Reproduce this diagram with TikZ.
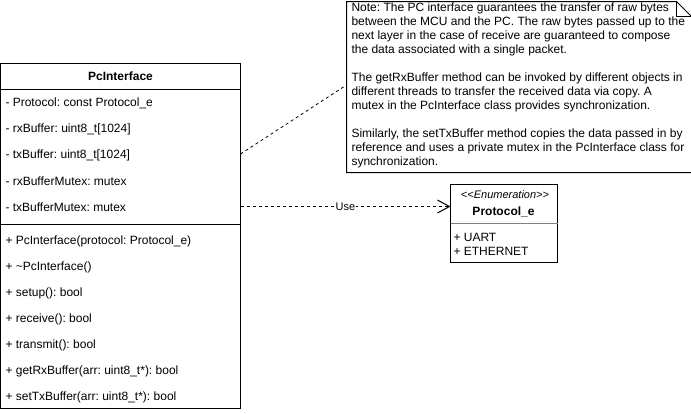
\documentclass[tikz,border=0pt]{standalone}
\usepackage{fontspec}
\setmainfont{Liberation Sans}
\usetikzlibrary{arrows.meta}
\frenchspacing
\begin{document}
\begin{tikzpicture}[x=1bp,y=-1bp,line width=1bp,
  font=\fontsize{12bp}{14bp}\selectfont,
  box/.style={draw,rectangle,anchor=north west,inner sep=0,outer sep=0},
  member/.style={anchor=west,inner sep=0},
  dsh/.style={dash pattern=on 3bp off 3bp}]
\useasboundingbox (0,0) rectangle (691,413);
% PcInterface class
\node[box,minimum width=240bp,minimum height=345bp] (pc) at (0.5,63.5) {};
\node[font=\fontsize{12bp}{14bp}\selectfont\bfseries] (pcname) at (120.5,76.5) {PcInterface};
\draw (0.5,89.5) -- (240.5,89.5);
\draw (0.5,224.5) -- (240.5,224.5);
\node[member] (a1) at (5,103) {- Protocol: const Protocol\_e};
\node[member] (a2) at (5,129) {- rxBuffer: uint8\_t[1024]};
\node[member] (a3) at (5,155) {- txBuffer: uint8\_t[1024]};
\node[member] (a4) at (5,181) {- rxBufferMutex: mutex};
\node[member] (a5) at (5,207) {- txBufferMutex: mutex};
\node[member] (m1) at (5,241) {+ PcInterface(protocol: Protocol\_e)};
\node[member] (m2) at (5,267) {+ \textasciitilde PcInterface()};
\node[member] (m3) at (5,293) {+ setup(): bool};
\node[member] (m4) at (5,319) {+ receive(): bool};
\node[member] (m5) at (5,345) {+ transmit(): bool};
\node[member] (m6) at (5,371) {+ getRxBuffer(arr: uint8\_t*): bool};
\node[member] (m7) at (5,397) {+ setTxBuffer(arr: uint8\_t*): bool};
% Protocol_e enumeration
\node[box,minimum width=107bp,minimum height=78bp] (enum) at (450.5,184.5) {};
\node[font=\fontsize{11bp}{13bp}\selectfont\itshape] (stereo) at (505,194.5) {{<}{<}Enumeration{>}{>}};
\node[font=\fontsize{12bp}{14bp}\selectfont\bfseries] (enumname) at (503.5,211.5) {Protocol\_e};
\draw[gray] (450.5,223.5) -- (557.5,223.5);
\node[member] (e1) at (453,237) {+ UART};
\node[member] (e2) at (453,251) {+ ETHERNET};
% Note
\node[rectangle,inner sep=0,anchor=north west,minimum width=344bp,minimum height=170bp] (note) at (346.5,1.5) {};
\draw (note.north west) -- ([xshift=-15bp]note.north east) -- ([yshift=-15bp]note.north east) -- (note.south east) -- (note.south west) -- cycle;
\draw ([xshift=-15bp]note.north east) -- ([xshift=-15bp,yshift=-15bp]note.north east) -- ([yshift=-15bp]note.north east);
\node[anchor=north west,inner sep=0,align=left] (notetext) at (351,2) {%
Note: The PC interface guarantees the transfer of raw bytes\\
between the MCU and the PC. The raw bytes passed up to the\\
next layer in the case of receive are guaranteed to compose\\
the data associated with a single packet.\\[14bp]
The getRxBuffer method can be invoked by different objects in\\
different threads to transfer the received data via copy. A\\
mutex in the PcInterface class provides synchronization.\\[14bp]
Similarly, the setTxBuffer method copies the data passed in by\\
reference and uses a private mutex in the PcInterface class for\\
synchronization.};
% connectors
\coordinate (pcnote) at (240.5,154);
\coordinate (notepc) at (346.5,85);
\draw[dsh,line width=0.8bp] (pcnote) -- (notepc);
\coordinate (pcuse) at (240.5,206.5);
\coordinate (enumuse) at (450.5,206.5);
\draw[dsh,-{Straight Barb[length=12bp,width=13bp,line width=1bp]}] (pcuse) -- node[fill=white,inner sep=1bp,font=\fontsize{11bp}{13bp}\selectfont] (uselbl) {Use} (enumuse);
\end{tikzpicture}
\end{document}
